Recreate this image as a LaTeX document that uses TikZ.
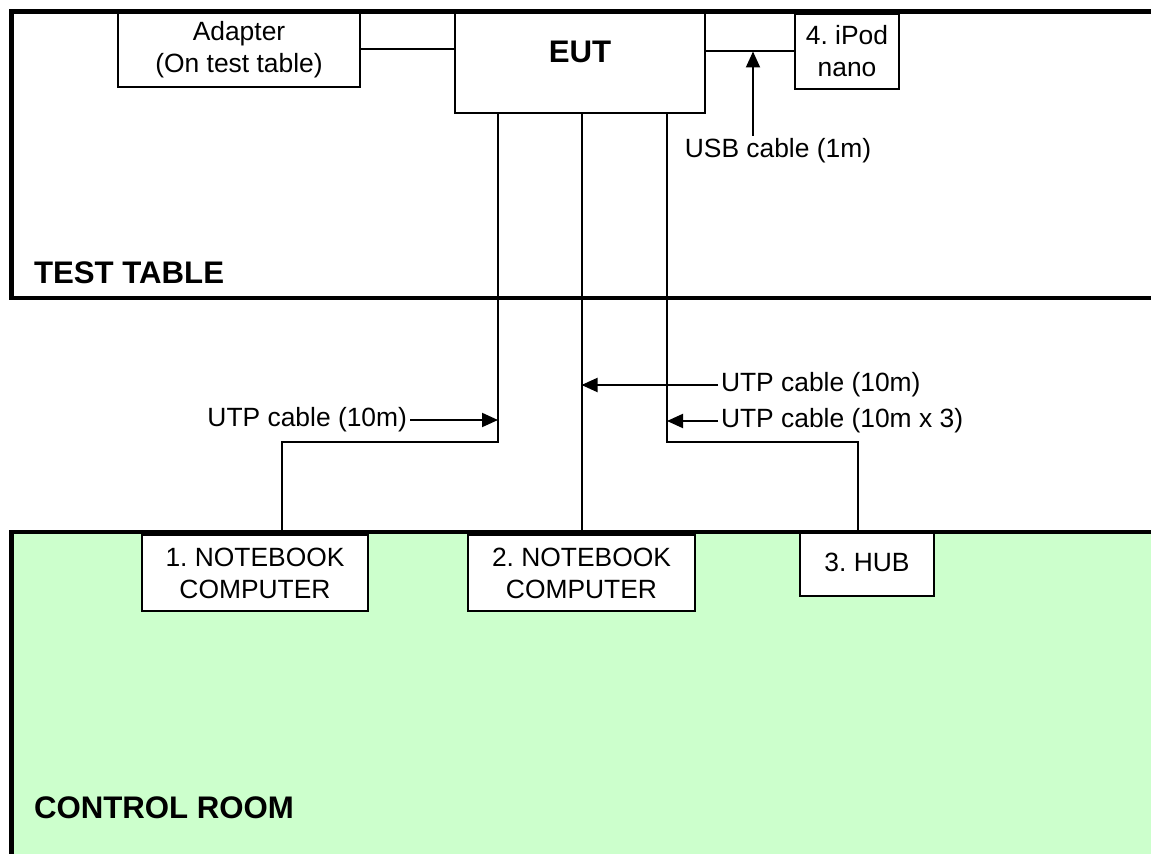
\documentclass[tikz,border=0pt]{standalone}
\usepackage{fontspec}
\setmainfont{Liberation Sans}
\usetikzlibrary{arrows.meta}
\definecolor{roomgreen}{HTML}{CCFFCC}
\frenchspacing

\begin{document}
\begin{tikzpicture}[x=0.5pt,y=-0.5pt,line width=1pt,>={Triangle[length=8pt,width=7pt]},
  box/.style={draw,fill=white,align=center,inner sep=0pt,font=\fontsize{13.2}{16}\selectfont},
  lbl/.style={inner sep=1pt,font=\fontsize{13.2}{16}\selectfont},
  area/.style={anchor=west,inner sep=0pt,font=\bfseries\fontsize{15.6}{18}\selectfont}]
  \useasboundingbox (0,0) rectangle (1151,854);
  % control room floor
  \fill[roomgreen] (11.5,532) rectangle (1151,854);
  \node[area] (cr) at (33,808) {CONTROL ROOM};
  \node[area] (tt) at (33,273) {TEST TABLE};
  % equipment on the table
  \node[box,minimum width=121pt,minimum height=37.5pt] (adapter) at (239,49.5) {Adapter\\(On test table)};
  \node[box,minimum width=125pt,minimum height=50.5pt,text depth=10.5pt,
        font=\bfseries\fontsize{15.6}{18}\selectfont] (eut) at (580,62.5) {EUT};
  \node[box,minimum width=52pt,minimum height=37.5pt] (ipod) at (847,51.5) {4. iPod\\nano};
  % equipment in the control room
  \node[box,minimum width=113pt,minimum height=38pt] (nb1) at (255,573) {1. NOTEBOOK\\COMPUTER};
  \node[box,minimum width=113.5pt,minimum height=38pt] (nb2) at (581.5,573) {2. NOTEBOOK\\COMPUTER};
  \node[box,minimum width=67pt,minimum height=31.5pt,text depth=2pt] (hub) at (867,564.5) {3. HUB};
  % cables
  \draw (adapter.east) -- (adapter.east -| eut.west);
  \draw (eut.east |- ipod.west) -- (ipod.west);
  \coordinate (bend1) at (498,442);
  \coordinate (drop1) at (282,442);
  \coordinate (bend3) at (667,442);
  \coordinate (drop3) at (858,442);
  \draw (eut.south -| bend1) -- (bend1) -- (drop1) -- (drop1 |- nb1.north);
  \draw (eut.south -| nb2.north) -- (nb2.north);
  \draw (eut.south -| bend3) -- (bend3) -- (drop3) -- (drop3 |- hub.north);
  % cable labels
  \node[lbl,anchor=east] (utp1) at (410,420) {UTP cable (10m)};
  \draw[->] (utp1.east) -- (utp1.east -| bend1);
  \node[lbl,anchor=west] (utp2) at (718,385) {UTP cable (10m)};
  \draw[->] (utp2.west) -- (utp2.west -| nb2.north);
  \node[lbl,anchor=west] (utp3) at (718,421) {UTP cable (10m x 3)};
  \draw[->] (utp3.west) -- (utp3.west -| bend3);
  \node[lbl] (usb) at (778,151) {USB cable (1m)};
  \coordinate (usbtip) at (753,51.5);
  \draw[->] (usb.north -| usbtip) -- (usbtip);
  % room walls (thick)
  \draw[line width=2.2pt] (1151,11.5) -- (11.5,11.5) -- (11.5,298) -- (1151,298);
  \draw[line width=2.2pt] (11.5,854) -- (11.5,532) -- (1151,532);
\end{tikzpicture}
\end{document}
